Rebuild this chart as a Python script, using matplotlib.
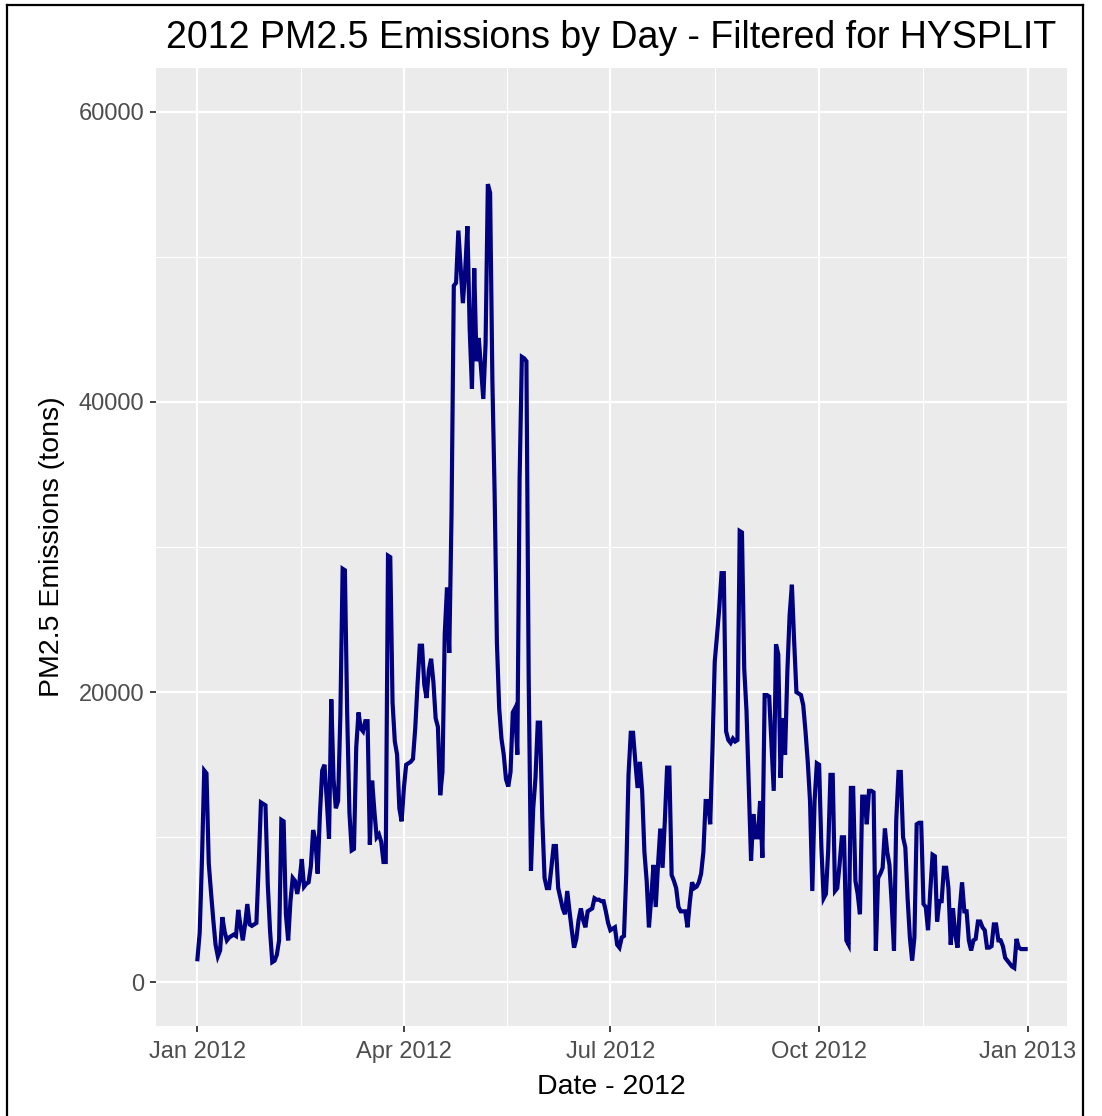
import matplotlib
matplotlib.use("Agg")
import matplotlib.pyplot as plt
import matplotlib.dates as mdates
from matplotlib.lines import Line2D
import numpy as np
import pandas as pd

plt.rcParams['font.family'] = ['Liberation Sans', 'DejaVu Sans']

# ---- data (daily PM2.5 emissions, tons) ----
start_date = "2012-01-01"
jan_feb = [1600, 3400, 8400, 14600, 14400, 8200, 6200, 4300, 2600, 1800,
           2200, 4500, 3500, 2900, 3100, 3200, 3300, 3200, 5000, 3900,
           2900, 4000, 5400, 4000, 3900, 4000, 4100, 8000, 12400, 12300,
           12200, 6800, 3600, 1400, 1500, 1900, 2900, 11200, 11100, 4700,
           2900, 5600, 7200, 7000, 6100, 7000, 8500, 6600, 6800, 6900,
           8000, 10500, 9800, 7500, 11600, 14600, 15000, 12600, 9900, 19500]
mar_apr = [14000, 12000, 12500, 18400, 28500, 28400, 18600, 11700, 9100, 9200,
           16200, 18600, 17500, 17300, 18000, 18000, 9500, 13900, 11800, 10000,
           10200, 9700, 8300, 8300, 29400, 29300, 19300, 16600, 15700, 12000,
           11100, 13400, 15000, 15100, 15200, 15400, 17500, 20500, 23200, 23200,
           20500, 19600, 21500, 22300, 20700, 18200, 17600, 12900, 14500, 24000,
           27200, 22700, 32300, 48000, 48200, 51800, 49300, 46800, 49000, 52100,
           45000]
may_jun = [40900, 49200, 42800, 44400, 42300, 40200, 44000, 55000, 54400, 41500,
           33600, 23400, 18900, 16800, 15700, 14000, 13500, 14500, 18600, 18900,
           15700, 34700, 43100, 43000, 42800, 21000, 7700, 12000, 14100, 17900,
           17900, 11300, 7200, 6500, 6500, 7900, 9400, 9400, 6500, 5800,
           5100, 4700, 6300, 4900, 3600, 2400, 3000, 4300, 5100, 4300,
           3800, 4900, 5000, 5100, 5800, 5700, 5700, 5600, 5600, 4900,
           4100]
jul_aug = [3600, 3700, 3800, 2600, 2400, 3100, 3200, 7500, 14300, 17200,
           17200, 15200, 13400, 15200, 13200, 9000, 7000, 3800, 5800, 8100,
           5200, 8100, 10600, 7900, 11100, 14800, 14800, 7400, 7000, 6500,
           5200, 4900, 4900, 4900, 3800, 5500, 6900, 6500, 6600, 6900,
           7500, 9000, 12500, 12500, 10900, 16100, 22100, 23900, 25800, 28200,
           28200, 17300, 16700, 16500, 16800, 16600, 16700, 31100, 31000, 21600,
           18700, 13600]
sep_oct = [8400, 11600, 10000, 10000, 12500, 8600, 19800, 19800, 19700, 16400,
           13200, 23300, 22600, 14100, 18200, 15700, 21400, 25300, 27400, 23500,
           20000, 19900, 19800, 19100, 17300, 15200, 12500, 6300, 12500, 15100,
           15000, 9300, 5800, 6100, 9100, 14300, 14300, 6300, 6500, 8100,
           10000, 10000, 2900, 2600, 13400, 13400, 7000, 6100, 4700, 12800,
           12800, 10900, 13200, 13200, 13100, 2200, 7200, 7500, 7900, 10600,
           9000]
nov_dec = [8100, 5400, 2200, 11200, 14500, 14500, 10000, 9300, 5800, 3100,
           1500, 3100, 10900, 11000, 11000, 5400, 5200, 3600, 6300, 8800,
           8700, 4200, 5600, 5600, 7900, 7900, 6500, 2600, 5100, 3300,
           2400, 5100, 6900, 4900, 4900, 2900, 2200, 2900, 3000, 4200,
           4200, 3800, 3600, 2400, 2400, 2500, 4000, 4000, 2900, 2900,
           2500, 1700, 1500, 1300, 1100, 1000, 3000, 2400, 2300, 2300,
           2300]
emissions = jan_feb + mar_apr + may_jun + jul_aug + sep_oct + nov_dec
dates = pd.date_range(start_date, periods=len(emissions), freq="D")

x_breaks = ["2012-01-01", "2012-04-01", "2012-07-01", "2012-10-01", "2013-01-01"]
x_labels = ["Jan 2012", "Apr 2012", "Jul 2012", "Oct 2012", "Jan 2013"]
y_breaks = [0, 20000, 40000, 60000]
y_labels = ["0", "20000", "40000", "60000"]
y_limits = (0, 60000)

title = "2012 PM2.5 Emissions by Day - Filtered for HYSPLIT"
xlabel = "Date - 2012"
ylabel = "PM2.5 Emissions (tons)"

# ---- figure ----
W, H = 1102, 1116
fig = plt.figure(figsize=(W / 100, H / 100), dpi=100)
fig.patch.set_facecolor("white")
L, R, T, B = 156, 1067, 68, 1026
ax = fig.add_axes([L / W, 1 - B / H, (R - L) / W, (B - T) / H])
ax.set_facecolor("#EBEBEB")

xd = mdates.date2num(dates.to_pydatetime())
ax.plot(xd, emissions, color="#000080", lw=3.0, solid_joinstyle="miter",
        zorder=3)

# ggplot-like expansion
xr = xd.max() - xd.min()
ax.set_xlim(xd.min() - 0.05 * xr, xd.max() + 0.05 * xr)
yr = y_limits[1] - y_limits[0]
ax.set_ylim(y_limits[0] - 0.05 * yr, y_limits[1] + 0.05 * yr)

xb = mdates.date2num(pd.to_datetime(x_breaks).to_pydatetime())
ax.set_xticks(xb)
ax.set_xticklabels(x_labels)
ax.set_xticks((xb[:-1] + xb[1:]) / 2, minor=True)
ax.set_yticks(y_breaks)
ax.set_yticklabels(y_labels)
yb = np.array(y_breaks, dtype=float)
ax.set_yticks((yb[:-1] + yb[1:]) / 2, minor=True)

ax.grid(which="major", color="white", lw=1.6, zorder=0)
ax.grid(which="minor", color="white", lw=0.8, zorder=0)
ax.set_axisbelow(True)
for s in ax.spines.values():
    s.set_visible(False)

ax.tick_params(axis="both", which="major", length=4.5, width=1.3,
               color="#333333", labelcolor="#4D4D4D", labelsize=17, pad=4)
ax.tick_params(axis="x", which="major", pad=6)
ax.tick_params(axis="both", which="minor", length=0)

ax.set_xlabel(xlabel, fontsize=20.5, color="black")
ax.set_ylabel(ylabel, fontsize=20.5, color="black")
ax.xaxis.set_label_coords(0.5, (B - 1087) / (B - T), transform=ax.transAxes)
ax.yaxis.set_label_coords((52 - L) / (R - L), 0.5, transform=ax.transAxes)
ax.xaxis.label.set_va("center")
ax.yaxis.label.set_va("center")
fig.text((L + R) / 2 / W, 1 - 38 / H, title, fontsize=27, color="black",
         ha="center", va="center")

# outer border (image is cropped at the bottom)
def fpt(x, y):
    return (x / W, 1 - y / H)
for (x0, y0), (x1, y1) in [((7, 5), (1083, 5)), ((7, 5), (7, 1116)),
                           ((1083, 5), (1083, 1116))]:
    a, b = fpt(x0, y0), fpt(x1, y1)
    fig.add_artist(Line2D([a[0], b[0]], [a[1], b[1]], color="black", lw=1.6,
                          transform=fig.transFigure))

fig.savefig("out.png", dpi=100)
